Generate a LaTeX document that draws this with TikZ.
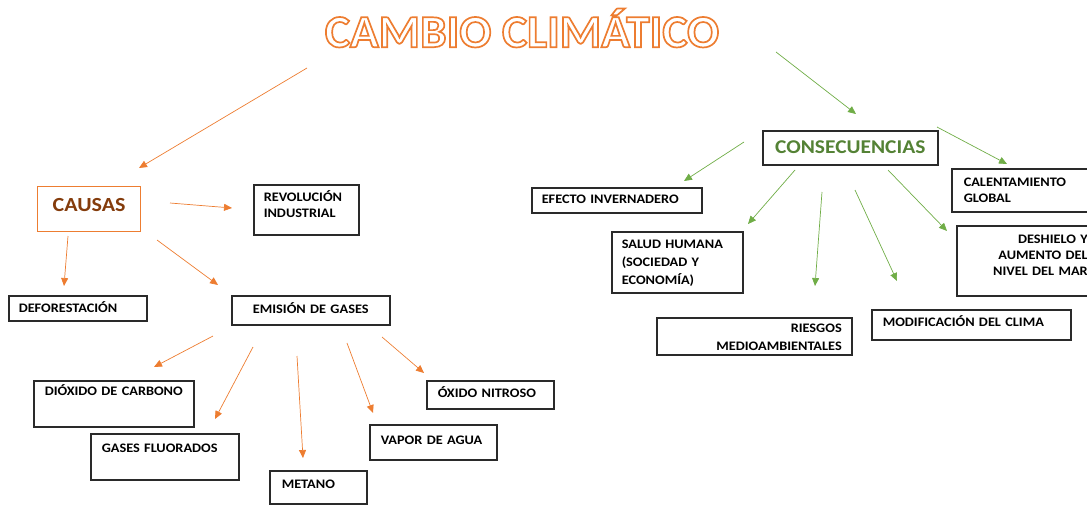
\documentclass[tikz,border=0pt]{standalone}
\usepackage{fontspec}
\setmainfont{Carlito}
\newfontfamily\lblfont[FakeStretch=1.1]{Carlito}
\newfontfamily\ttlfont[FakeStretch=1.03]{Carlito}
\usetikzlibrary{arrows.meta}
\definecolor{aor}{HTML}{ED7D31}
\definecolor{agr}{HTML}{70AD47}
\definecolor{tbrown}{HTML}{843C0C}
\definecolor{tgreen}{HTML}{548235}
\definecolor{bdr}{HTML}{2A2A2A}
\newcommand\hollowtxt[1]{\special{pdf:code q 1 Tr 1.7 w}#1\special{pdf:code Q}}
\begin{document}
\begin{tikzpicture}[x=1pt,y=-1pt,
  bx/.style={draw=bdr, line width=1.5pt, anchor=north west, inner xsep=10pt,
    inner ysep=0pt, align=left, font=\lblfont\fontsize{13}{16}\selectfont\bfseries},
  oarr/.style={draw=aor, line width=0.7pt, -{Triangle[length=8pt,width=7pt]}},
  garr/.style={draw=agr, line width=0.7pt, -{Triangle[length=8pt,width=7pt]}}]
\useasboundingbox (0,0) rectangle (1087,504);
\clip (0,0) rectangle (1087,504);
% title
\node[font=\ttlfont\fontsize{46}{50}\selectfont\bfseries, text=aor, inner sep=0pt] (title) at (522,28)
  {\hollowtxt{CAMBIO CLIMÁTICO}};
% causas side
\node[bx, draw=aor, line width=1.2pt, text width=83pt, align=center, text height=25pt, text depth=20pt,
  font=\lblfont\fontsize{20}{24}\selectfont\bfseries, text=tbrown] (causas) at (37,186) {CAUSAS};
\node[bx, text width=85pt, text height=17pt, text depth=33pt] (rev) at (253,184) {REVOLUCIÓN\\INDUSTRIAL};
\node[bx, text width=118pt, text height=17pt, text depth=8pt] (def) at (8,295) {DEFORESTACIÓN};
\node[bx, text width=138pt, align=center, text height=18pt, text depth=11pt] (emi) at (231,295) {EMISIÓN DE GASES};
\node[bx, inner xsep=11pt, text width=138pt, text height=15pt, text depth=31pt] (dio) at (33,380) {\mbox{DIÓXIDO DE CARBONO}};
\node[bx, inner xsep=11pt, text width=126pt, text height=19pt, text depth=27pt] (gas) at (90,433) {GASES FLUORADOS};
\node[bx, inner xsep=12pt, text width=73pt, text height=18pt, text depth=15pt] (met) at (269,470) {METANO};
\node[bx, inner xsep=11pt, text width=105pt, text height=20pt, text depth=15pt] (vap) at (369,424) {VAPOR DE AGUA};
\node[bx, inner xsep=11pt, text width=105pt, text height=17pt, text depth=11pt] (oxi) at (426,380) {ÓXIDO NITROSO};
% consecuencias side
\node[bx, text width=155pt, align=center, text height=23pt, text depth=11pt,
  font=\lblfont\fontsize{19.5}{24}\selectfont\bfseries, text=tgreen] (cons) at (762,130) {CONSECUENCIAS};
\node[bx, text width=150pt, text height=16pt, text depth=9pt] (efe) at (531,187) {EFECTO INVERNADERO};
\node[bx, text width=111pt, text height=17pt, text depth=44pt, font=\lblfont\fontsize{13}{18}\selectfont\bfseries] (sal) at (611,231) {SALUD HUMANA\\(SOCIEDAD Y\\ECONOMÍA)};
\node[bx, text width=175pt, align=right, text height=15pt, text depth=22pt, font=\lblfont\fontsize{13}{18}\selectfont\bfseries] (rie) at (656,317) {RIESGOS\\MEDIOAMBIENTALES};
\node[bx, inner xsep=11pt, text width=177pt, text height=17pt, text depth=13pt] (mod) at (871,309) {MODIFICACIÓN DEL CLIMA};
\node[bx, inner xsep=12pt, text width=124pt, text height=18pt, text depth=25pt] (cal) at (951,168) {CALENTAMIENTO\\GLOBAL};
\node[bx, text width=121pt, align=right, text height=18pt, text depth=52pt] (des) at (956,225) {DESHIELO Y\\AUMENTO DEL\\NIVEL DEL MAR};
% arrow end points
\coordinate (a1) at (307,68);  \coordinate (a2) at (139,168);
\coordinate (b1) at (170,203); \coordinate (b2) at (232,208);
\coordinate (c1) at (68,236);  \coordinate (c2) at (64,286);
\coordinate (d1) at (157,240); \coordinate (d2) at (218,285);
\coordinate (e1) at (213,336); \coordinate (e2) at (154,367);
\coordinate (f1) at (253,347); \coordinate (f2) at (215,419);
\coordinate (g1) at (297,356); \coordinate (g2) at (303,458);
\coordinate (h1) at (347,343); \coordinate (h2) at (373,413);
\coordinate (i1) at (382,337); \coordinate (i2) at (424,373);
\coordinate (j1) at (776,52);  \coordinate (j2) at (856,114);
\coordinate (k1) at (744,142); \coordinate (k2) at (684,181);
\coordinate (l1) at (795,170); \coordinate (l2) at (748,224);
\coordinate (m1) at (822,192); \coordinate (m2) at (815,286);
\coordinate (n1) at (855,190); \coordinate (n2) at (897,281);
\coordinate (o1) at (888,170); \coordinate (o2) at (947,231);
\coordinate (p1) at (937,127); \coordinate (p2) at (1007,164);
\foreach \s in {a,b,c,d,e,f,g,h,i}{\draw[oarr] (\s1) -- (\s2);}
\foreach \s in {j,k,l,m,n,o,p}{\draw[garr] (\s1) -- (\s2);}
\end{tikzpicture}
\end{document}
